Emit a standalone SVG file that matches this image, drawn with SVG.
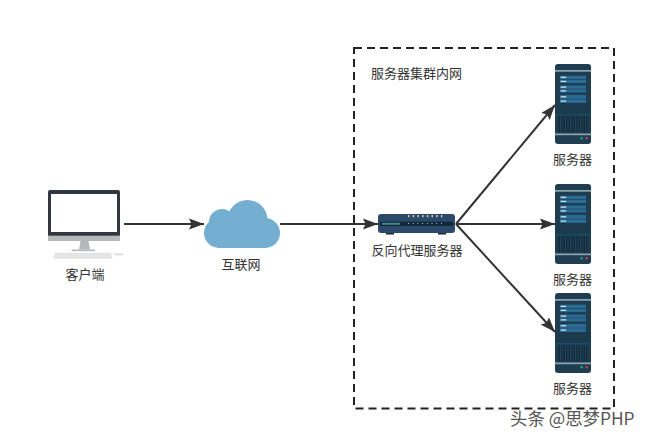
<svg xmlns="http://www.w3.org/2000/svg" width="646" height="441" viewBox="0 0 646 441">
<style>
text{font-family:"Noto Sans CJK SC","Liberation Sans",sans-serif;font-size:13px;fill:#333;text-anchor:middle}
.c{fill:none;stroke:#333;stroke-width:2;marker-end:url(#a)}
.p{fill:#2a6b94}
.w{fill:#dce8ee}
.b{fill:#8fa5b0}
</style>
<defs>
<marker id="a" markerUnits="userSpaceOnUse" markerWidth="16" markerHeight="12" refX="15" refY="6" orient="auto"><path d="M0 0.500L15 6L0 11.500L2.500 6Z" fill="#333"/></marker>
<pattern id="v" patternUnits="userSpaceOnUse" width="2.500" height="20"><rect width="2.500" height="20" fill="#12293a"/><rect width="1" height="20" fill="#24485e"/></pattern>
<g id="srv">
<rect x="0" y="0" width="36" height="80" rx="3" fill="#1f3d50"/>
<rect class="b" x="0" y="6" width="36" height="1.700"/>
<rect class="p" x="5" y="11.700" width="26" height="3.400"/><rect class="p" x="5" y="15.700" width="26" height="3.400"/>
<rect class="p" x="5" y="21.500" width="26" height="3.200"/><rect class="p" x="5" y="25.300" width="26" height="3.200"/>
<rect class="p" x="5" y="31" width="26" height="3.700"/><rect class="p" x="5" y="35.300" width="26" height="3.700"/>
<rect class="w" x="5.700" y="12.700" width="5.500" height="1.200"/><rect class="w" x="5.700" y="16.800" width="5.500" height="1.200"/>
<rect class="w" x="5.700" y="22.500" width="5.500" height="1.200"/><rect class="w" x="5.700" y="26.300" width="5.500" height="1.200"/>
<rect class="w" x="5.700" y="32.200" width="5.500" height="1.200"/><rect class="w" x="5.700" y="36.500" width="5.500" height="1.200"/>
<rect x="0" y="39" width="36" height="12" fill="#1c3a4d"/>
<rect x="0" y="50.500" width="36" height="0.800" fill="#1d5f7d"/>
<rect x="2.500" y="51.700" width="31" height="16.600" fill="url(#v)"/>
<rect class="b" x="0" y="69.500" width="36" height="1.700"/>
<circle cx="26.700" cy="74.300" r="1.300" fill="#2f9e6e"/><circle cx="31.700" cy="74.300" r="1.300" fill="#c0405a"/>
</g>
</defs>
<rect width="646" height="441" fill="#fff"/>
<g id="connectors">
<path class="c" d="M124 224H204"/>
<path class="c" d="M280 224H378"/>
<path class="c" d="M456 224L555 105"/>
<path class="c" d="M456 224H555"/>
<path class="c" d="M456 224L555 332"/>
</g>
<g id="cluster">
<rect x="354" y="48" width="260" height="360.500" fill="none" stroke="#222" stroke-width="2" stroke-dasharray="8 5"/>
<text x="416.500" y="77.500">服务器集群内网</text>
</g>
<g id="client">
<rect x="48" y="190" width="72" height="47" rx="2" fill="#33373f"/>
<rect x="51" y="194" width="66" height="38" fill="#fff"/>
<rect x="48" y="235.700" width="72" height="5.300" fill="#b5b7b8"/>
<path d="M80.500 241H88.500L90 249.500H79Z" fill="#b5b7b8"/>
<rect x="71.700" y="249.500" width="23.300" height="1.600" fill="#b5b7b8"/>
<path d="M55 252.700H111L112.700 258.700H53Z" fill="#e3e4e5"/>
<ellipse cx="118.500" cy="254.300" rx="5.500" ry="1.400" fill="#e3e4e5"/>
<text x="85" y="278.500">客户端</text>
</g>
<g id="cloud">
<path fill="#74afd1" d="M204 233a15 15 0 0 1 15-15h46a15 15 0 0 1 0 30h-46a15 15 0 0 1-15-15ZM209 222a13 13 0 1 1 26 0a13 13 0 1 1-26 0ZM227.500 220a20 20 0 1 1 40 0a20 20 0 1 1-40 0Z"/>
<text x="241" y="269">互联网</text>
</g>
<g id="proxy">
<rect x="378" y="214" width="77" height="19" rx="3" fill="#2b4a6b"/>
<rect x="380" y="221.700" width="73" height="4.300" fill="#12293a"/>
<rect x="382" y="222.800" width="18" height="2" fill="#3f8a8c"/>
<path d="M408 215h1.500v2.300h-1.500zM412.700 215h1.500v2.300h-1.500zM417.400 215h1.500v2.300h-1.500zM422.100 215h1.500v2.300h-1.500zM426.800 215h1.500v2.300h-1.500zM431.500 215h1.500v2.300h-1.500zM436.200 215h1.500v2.300h-1.500zM440.900 215h1.500v2.300h-1.500z" fill="#cfc9a8"/>
<path d="M408 223h1v1h-1zM412.700 223h1v1h-1zM417.400 223h1v1h-1zM422.100 223h1v1h-1zM426.800 223h1v1h-1zM431.500 223h1v1h-1zM436.200 223h1v1h-1zM440.900 223h1v1h-1z" fill="#9fc4d6"/>
<rect x="386" y="233" width="8" height="1.500" fill="#1a2a3a"/><rect x="438" y="233" width="8" height="1.500" fill="#1a2a3a"/>
<text x="417" y="254.500">反向代理服务器</text>
</g>
<g id="server1"><use href="#srv" x="555" y="64"/><text x="572.500" y="164">服务器</text></g>
<g id="server2"><use href="#srv" x="555" y="184"/><text x="572.500" y="284">服务器</text></g>
<g id="server3"><use href="#srv" x="555" y="293"/><text x="572.500" y="392.500">服务器</text></g>
<text x="510" y="424.500" style="font-size:17.400px;fill:#555;text-anchor:start">头条 @思梦PHP</text>
</svg>
